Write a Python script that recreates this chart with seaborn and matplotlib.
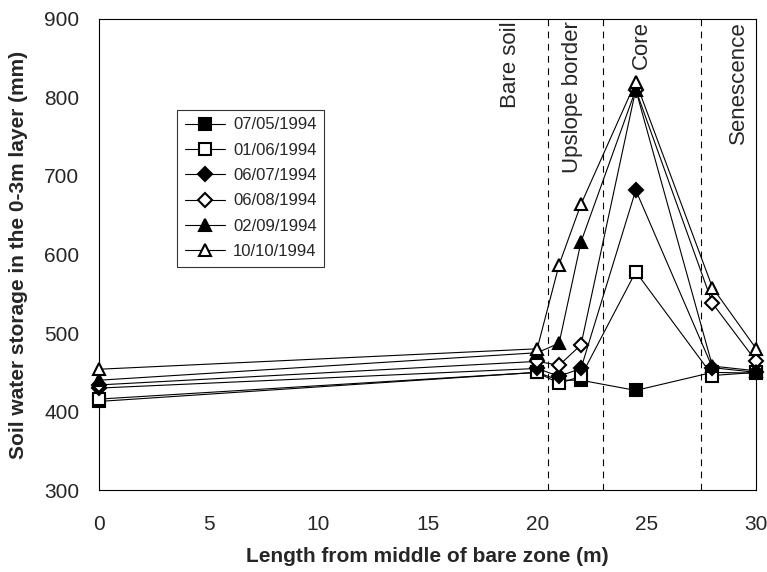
import numpy as np
import pandas as pd
import matplotlib
matplotlib.use('Agg')
import matplotlib.pyplot as plt
import seaborn as sns

# data
length = [0, 20, 21, 22, 24.5, 28, 30]
dates = ['07/05/1994', '01/06/1994', '06/07/1994', '06/08/1994', '02/09/1994', '10/10/1994']
s_0705 = [413, 450, 440, 440, 427, 450, 449]
s_0106 = [416, 450, 436, 445, 578, 446, 450]
s_0607 = [430, 455, 445, 455, 682, 456, 450]
s_0608 = [434, 464, 459, 485, 810, 538, 464]
s_0209 = [440, 475, 487, 616, 810, 458, 452]
s_1010 = [454, 480, 587, 664, 820, 558, 480]
zone_bounds = [20.5, 23, 27.5]
zone_names = ['Bare soil', 'Upslope border', 'Core', 'Senescence']
zone_text_x = [18.8, 21.6, 24.75, 29.2]

series = [s_0705, s_0106, s_0607, s_0608, s_0209, s_1010]
markers = ['s', 's', 'D', 'D', '^', '^']
filled = [True, False, True, False, True, False]
msizes = [9, 9, 7, 7, 9, 9]

sns.set_style("white")
plt.rcParams['font.family'] = ['Liberation Sans', 'DejaVu Sans']

fig = plt.figure(figsize=(7.67, 5.72), dpi=100)
ax = fig.add_axes([0.129, 0.143, 0.857, 0.824])

for i, (d, vals) in enumerate(zip(dates, series)):
    df = pd.DataFrame({'x': length, 'y': vals})
    sns.lineplot(data=df, x='x', y='y', ax=ax, color='black', lw=0.8,
                 marker=markers[i], markersize=msizes[i],
                 markerfacecolor='black' if filled[i] else 'white',
                 markeredgecolor='black', markeredgewidth=1.5,
                 label=d, zorder=3 + i, clip_on=False)

for xb in zone_bounds:
    ax.axvline(xb, color='black', lw=0.8, ls=(0, (6, 5)), zorder=1)

for xt, name in zip(zone_text_x, zone_names):
    ax.text(xt, 897, name, rotation=90, ha='center', va='top', fontsize=16)

ax.set_xlim(0, 30)
ax.set_ylim(300, 900)
ax.set_xticks(np.arange(0, 31, 5))
ax.set_yticks(np.arange(300, 901, 100))
ax.tick_params(axis='both', direction='inout', length=8, width=0.8,
               labelsize=15, color='black', pad=10)
ax.tick_params(axis='x', pad=14)
for sp in ax.spines.values():
    sp.set_color('black')
    sp.set_linewidth(0.8)

ax.set_xlabel('Length from middle of bare zone (m)', fontsize=15,
              fontweight='bold', labelpad=9)
ax.set_ylabel('Soil water storage in the 0-3m layer (mm)', fontsize=15,
              fontweight='bold', labelpad=12)

leg = ax.legend(loc='upper left', bbox_to_anchor=(0.119, 0.807), fontsize=12,
                frameon=True, fancybox=False, edgecolor='black',
                handlelength=2.4, handletextpad=0.5, labelspacing=0.62,
                borderpad=0.45, borderaxespad=0)
leg.get_frame().set_linewidth(0.8)

plt.savefig('out.png', dpi=100)
